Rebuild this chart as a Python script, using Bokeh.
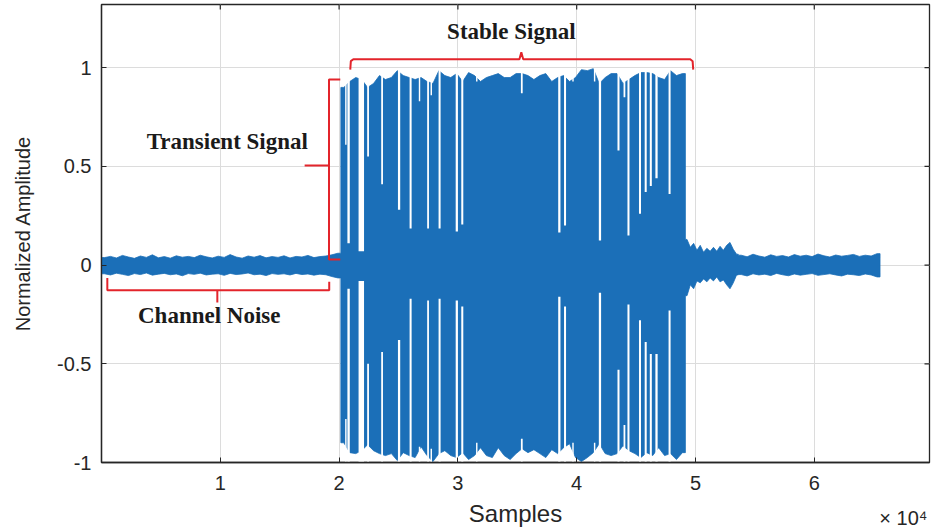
import numpy as np
from bokeh.plotting import figure
from bokeh.models import Range1d, FixedTicker, Label, LinearAxis
from bokeh.embed import file_html
from bokeh.resources import INLINE

# ---------------- data ----------------
x_ticks = [10000, 20000, 30000, 40000, 50000, 60000]
x_tick_labels = ["1", "2", "3", "4", "5", "6"]
y_ticks = [-1.0, -0.5, 0.0, 0.5, 1.0]
y_tick_labels = ["-1", "-0.5", "0", "0.5", "1"]

# signal envelope, region by region: [first sample, last sample], upper / lower value of each bin
noise_left_span = [0, 20150]
noise_left_hi = [0.038, 0.044, 0.036, 0.049, 0.041, 0.034, 0.046, 0.039, 0.052, 0.037,
                 0.043, 0.035, 0.047, 0.040, 0.044, 0.038, 0.050, 0.042, 0.036, 0.045,
                 0.039, 0.053, 0.041, 0.035, 0.046, 0.040, 0.048, 0.037, 0.043, 0.039,
                 0.047, 0.036, 0.044, 0.041, 0.049, 0.038, 0.043, 0.046, 0.052, 0.060]
noise_left_lo = [-0.044, -0.050, -0.041, -0.047, -0.053, -0.043, -0.048, -0.040, -0.051, -0.046,
                 -0.042, -0.049, -0.045, -0.054, -0.043, -0.047, -0.041, -0.050, -0.046, -0.044,
                 -0.052, -0.042, -0.048, -0.045, -0.040, -0.049, -0.046, -0.053, -0.043, -0.047,
                 -0.044, -0.050, -0.042, -0.048, -0.045, -0.051, -0.046, -0.049, -0.058, -0.065]

burst_span = [20150, 49150]
burst_hi = [0.90, 0.93, 0.95, 0.94, 0.90, 0.92, 0.96, 0.94, 0.95, 0.985,
            0.96, 0.95, 0.94, 0.95, 0.93, 0.92, 0.985, 0.96, 0.95, 0.97,
            0.93, 0.975, 0.96, 0.93, 0.95, 0.96, 0.97, 0.95, 0.95, 0.97,
            0.97, 0.96, 0.94, 0.96, 0.97, 0.93, 0.95, 0.96, 0.93, 0.95,
            0.99, 0.985, 0.995, 0.92, 0.95, 0.97, 0.97, 0.92, 0.94, 0.96,
            0.975, 0.975, 0.97, 0.95, 0.94, 0.985, 0.96, 0.97]
burst_lo = [-0.90, -0.95, -0.955, -0.94, -0.91, -0.94, -0.955, -0.965, -0.955, -0.99,
            -0.95, -0.965, -0.975, -0.92, -0.965, -0.995, -0.955, -0.94, -0.965, -0.975,
            -0.95, -0.985, -0.965, -0.925, -0.965, -0.975, -0.925, -0.965, -0.985, -0.955,
            -0.93, -0.95, -0.935, -0.955, -0.975, -0.935, -0.955, -0.925, -0.905, -0.975,
            -0.995, -0.975, -0.95, -0.905, -0.955, -0.965, -0.955, -0.915, -0.94, -0.955,
            -0.975, -0.95, -0.965, -0.925, -0.965, -0.955, -0.985, -0.95]

tail_span = [49150, 53600]
tail_hi = [0.13, 0.09, 0.11, 0.075, 0.10, 0.065, 0.085, 0.07,
           0.09, 0.07, 0.095, 0.075, 0.10, 0.115, 0.08, 0.055]
tail_lo = [-0.155, -0.10, -0.12, -0.08, -0.09, -0.07, -0.085, -0.065,
           -0.08, -0.06, -0.085, -0.075, -0.10, -0.12, -0.09, -0.05]

noise_right_span = [53600, 65536]
noise_right_hi = [0.050, 0.042, 0.055, 0.046, 0.040, 0.052, 0.044, 0.048, 0.041, 0.053, 0.045, 0.050,
                  0.043, 0.056, 0.047, 0.041, 0.051, 0.045, 0.049, 0.054, 0.044, 0.050, 0.046, 0.058]
noise_right_lo = [-0.048, -0.055, -0.044, -0.050, -0.046, -0.053, -0.042, -0.049, -0.054, -0.045, -0.051, -0.047,
                  -0.043, -0.052, -0.048, -0.044, -0.050, -0.055, -0.046, -0.049, -0.053, -0.045, -0.050, -0.060]

# short low-amplitude stretches inside the burst: centre sample, length (samples), upper / lower amplitude
gap_x = [20570, 20800, 21870, 22440, 23620, 25050, 26020, 26770, 27490, 27760,
         28460, 29910, 30370, 31590, 35380, 38540, 39020, 39690, 41510, 41960,
         43520, 44020, 44360, 45330, 45810, 46240, 46720, 47820]
gap_len = [120, 200, 460, 150, 150, 190, 170, 120, 150, 120,
           170, 190, 170, 120, 150, 190, 170, 120, 120, 190,
           170, 150, 170, 170, 170, 170, 190, 170]
gap_hi = [0.61, 0.11, 0.07, 0.55, 0.41, 0.28, 0.185, 0.83, 0.185, 0.86,
          0.185, 0.17, 0.205, 0.93, 0.87, 0.165, 0.20, 0.93, 0.93, 0.124,
          0.58, 0.85, 0.15, 0.26, 0.37, 0.40, 0.44, 0.36]
gap_lo = [-0.78, -0.12, -0.08, -0.50, -0.44, -0.38, -0.17, -0.92, -0.18, -0.93,
          -0.17, -0.18, -0.21, -0.90, -0.88, -0.16, -0.21, -0.90, -0.90, -0.14,
          -0.53, -0.81, -0.20, -0.28, -0.39, -0.45, -0.45, -0.23]

# ---------------- styling ----------------
BLUE = "#1b6fb8"
RED = "#e3242b"
AX = "#262626"
SANS = "Liberation Sans"
SERIF = "Liberation Serif"
X_MAX = 69700
Y_MIN, Y_MAX = -1.0, 1.32

p = figure(width=933, height=529, output_backend="svg", toolbar_location=None,
           x_range=Range1d(0, X_MAX), y_range=Range1d(Y_MIN, Y_MAX),
           min_border_left=101, min_border_right=4, min_border_top=4, min_border_bottom=67,
           background_fill_color="white", border_fill_color="white")
p.outline_line_color = AX
p.outline_line_width = 1.3

# ---------------- signal envelope as one polygon ----------------
regions = [(noise_left_span, noise_left_hi, noise_left_lo),
           (burst_span, burst_hi, burst_lo),
           (tail_span, tail_hi, tail_lo),
           (noise_right_span, noise_right_hi, noise_right_lo)]
top_x, top_y, bot_x, bot_y = [], [], [], []
for span, hi, lo in regions:
    n = len(hi)
    step = (span[1] - span[0]) / n
    centres = [span[0] + step * (i + 0.5) for i in range(n)]
    xs = [span[0]] + centres + [span[1]]
    top_x += xs
    top_y += [hi[0]] + list(hi) + [hi[-1]]
    bot_x += xs
    bot_y += [lo[0]] + list(lo) + [lo[-1]]
p.patch(top_x + bot_x[::-1], top_y + bot_y[::-1],
        fill_color=BLUE, line_color=BLUE, line_width=0.8)

# low-amplitude stretches: clear the band above / below them
gx = np.array(gap_x, dtype=float)
gl = np.array(gap_len, dtype=float)
ceil = [0.997] * len(gap_x)
floor = [-0.997] * len(gap_x)
p.quad(left=gx - gl / 2, right=gx + gl / 2, bottom=gap_hi, top=ceil,
       fill_color="white", line_color=None)
p.quad(left=gx - gl / 2, right=gx + gl / 2, bottom=floor, top=gap_lo,
       fill_color="white", line_color=None)

# ---------------- axes ----------------
xa = p.xaxis[0]
ya = p.yaxis[0]
xa.ticker = FixedTicker(ticks=x_ticks)
xa.major_label_overrides = {t: s for t, s in zip(x_ticks, x_tick_labels)}
ya.ticker = FixedTicker(ticks=y_ticks)
ya.major_label_overrides = {t: s for t, s in zip(y_ticks, y_tick_labels)}
ya.axis_label = "Normalized Amplitude"
for ax in [xa, ya]:
    ax.axis_line_color = AX
    ax.axis_line_width = 1.3
    ax.major_tick_in = 5
    ax.major_tick_out = 0
    ax.major_tick_line_color = AX
    ax.minor_tick_line_color = None
    ax.major_label_text_font = SANS
    ax.major_label_text_font_size = "20px"
    ax.major_label_text_color = AX
    ax.axis_label_text_font = SANS
    ax.axis_label_text_font_style = "normal"
    ax.axis_label_text_color = AX
xa.major_label_standoff = 13
ya.major_label_standoff = 10
ya.axis_label_text_font_size = "20px"
ya.axis_label_standoff = 20

# second row under the x axis: the "Samples" title and the x10^4 multiplier on one line
mult_pos = 67500
xb = LinearAxis(ticker=FixedTicker(ticks=[mult_pos]),
                major_label_overrides={mult_pos: "\u00d7 10\u2074"})
xb.axis_line_color = None
xb.major_tick_line_color = None
xb.minor_tick_line_color = None
xb.major_label_text_font = SANS
xb.major_label_text_font_size = "20px"
xb.major_label_text_color = AX
xb.major_label_standoff = 8
xb.axis_label = "Samples"
xb.axis_label_text_font = SANS
xb.axis_label_text_font_style = "normal"
xb.axis_label_text_font_size = "24px"
xb.axis_label_text_color = AX
xb.axis_label_standoff = -32
p.add_layout(xb, "below")

# inward ticks on the top and right edges of the box
p.ray(x=x_ticks, y=[Y_MAX] * len(x_ticks), length=5, length_units="screen",
      angle=-np.pi / 2, line_color=AX, line_width=1.2)
p.ray(x=[X_MAX] * len(y_ticks), y=y_ticks, length=5, length_units="screen",
      angle=np.pi, line_color=AX, line_width=1.2)

p.xgrid.ticker = FixedTicker(ticks=x_ticks)
p.ygrid.ticker = FixedTicker(ticks=y_ticks)
p.xgrid.grid_line_color = "#dcdcdc"
p.ygrid.grid_line_color = "#dcdcdc"

# ---------------- annotations (red braces and captions) ----------------
brace_xs = [
    [20940, 20990, 21200, 35180, 35340, 35500, 49560, 49760, 49810],      # stable signal
    [20100, 19150, 19150, 20100],                                           # transient signal
    [17100, 19150],
    [490, 490, 19170, 19170],                                               # channel noise
    [9750, 9750],
]
brace_ys = [
    [0.99, 1.033, 1.043, 1.043, 1.078, 1.043, 1.043, 1.033, 0.99],
    [0.94, 0.94, 0.028, 0.028],
    [0.505, 0.505],
    [-0.065, -0.127, -0.127, -0.085],
    [-0.127, -0.19],
]
p.multi_line(xs=brace_xs, ys=brace_ys, line_color=RED, line_width=2)

captions = [("Stable Signal", 34500, 1.185),
            ("Transient Signal", 10590, 0.625),
            ("Channel Noise", 9070, -0.256)]
for txt, cx, cy in captions:
    p.add_layout(Label(x=cx, y=cy, text=txt, text_font=SERIF, text_font_size="23px",
                       text_font_style="bold", text_color="#1a1a1a",
                       text_align="center", text_baseline="middle"))

open("out.html", "w").write(file_html(p, INLINE))
